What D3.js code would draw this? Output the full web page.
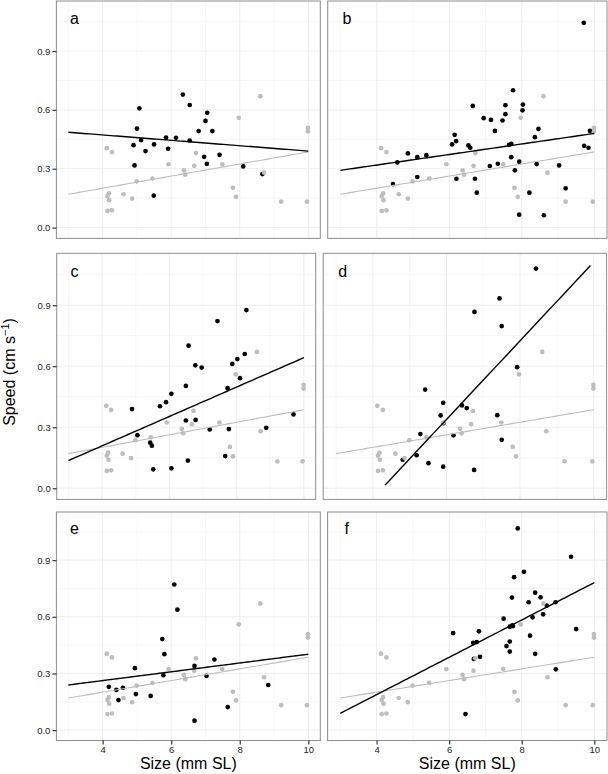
<!DOCTYPE html>
<html><head><meta charset="utf-8">
<script src="https://cdn.jsdelivr.net/npm/d3@7"></script>
<style>
html,body{margin:0;padding:0;background:#fff;}
svg{display:block;font-family:"Liberation Sans",Arial,sans-serif;}
</style></head>
<body>
<svg id="chart" width="608" height="774"></svg>
<script>
// ---------- data ----------
const panelLabels = ["a","b","c","d","e","f"];
const xTickValues = [4, 6, 8, 10];
const xTickLabels = ["4", "6", "8", "10"];
const yTickValues = [0, 0.3, 0.6, 0.9];
const yTickLabels = ["0.0", "0.3", "0.6", "0.9"];
const fitX = [3, 10];

// grey reference points (same in every panel)
const greyX = [4.12,4.27,4.14,4.18,4.19,4.14,4.27,4.61,4.86,4.99,5.45,5.92,6.37,6.41,6.67,6.72,7.49,7.80,7.89,7.97,8.60,8.71,9.21,9.96,9.99,9.99];
const greyY = [0.405,0.385,0.160,0.175,0.140,0.085,0.088,0.170,0.148,0.236,0.250,0.323,0.292,0.270,0.315,0.380,0.323,0.203,0.157,0.560,0.670,0.280,0.132,0.132,0.508,0.490];
const greyFit = [0.170, 0.386];

const aX = [5.07,5.00,4.90,5.12,4.93,5.25,5.50,5.49,5.85,5.91,6.14,6.34,6.54,6.54,6.80,7.00,7.05,7.20,6.96,7.04,7.41,8.10,8.66];
const aY = [0.608,0.505,0.420,0.446,0.317,0.390,0.424,0.163,0.459,0.402,0.458,0.678,0.625,0.444,0.492,0.544,0.585,0.492,0.361,0.325,0.371,0.312,0.273];
const aFit = [0.486, 0.390];

const bX = [9.71,7.76,6.65,7.55,8.03,8.02,7.55,6.95,7.15,7.47,7.26,8.46,8.36,9.88,6.15,6.19,6.08,6.53,6.58,7.65,7.71,9.72,9.84,4.86,5.12,5.37,4.57,7.71,7.93,7.34,7.12,8.41,9.03,7.81,5.12,4.45,6.20,6.71,6.76,8.21,9.21,7.93,8.61];
const bY = [1.044,0.700,0.620,0.624,0.627,0.598,0.578,0.558,0.549,0.546,0.493,0.503,0.461,0.493,0.473,0.441,0.424,0.419,0.407,0.422,0.427,0.417,0.407,0.378,0.359,0.369,0.332,0.359,0.336,0.325,0.314,0.324,0.317,0.292,0.258,0.222,0.249,0.249,0.178,0.178,0.200,0.066,0.063];
const bFit = [0.292, 0.480];

const cX = [8.29,7.43,6.57,6.77,6.96,6.49,8.24,8.02,7.87,8.10,7.73,6.06,5.90,5.72,4.89,5.05,6.49,6.78,7.20,7.77,8.88,9.69,5.43,5.48,5.52,6.06,6.55,7.66];
const cY = [0.876,0.822,0.701,0.604,0.593,0.503,0.660,0.635,0.611,0.541,0.492,0.464,0.423,0.403,0.389,0.261,0.333,0.336,0.289,0.291,0.297,0.363,0.224,0.209,0.093,0.098,0.136,0.158];
const cFit = [0.136, 0.642];

const dX = [8.43,7.44,6.76,7.50,7.92,5.42,5.91,6.42,6.55,5.84,5.92,7.38,5.29,6.19,7.50,5.19,4.81,5.51,5.91,6.75];
const dY = [1.080,0.933,0.867,0.797,0.595,0.485,0.420,0.407,0.394,0.358,0.320,0.359,0.266,0.260,0.238,0.162,0.140,0.123,0.106,0.090];
const dFit = [-0.242, 1.112];

const eX = [6.09,6.18,5.74,5.80,5.77,4.94,7.26,6.68,7.03,4.18,4.40,4.59,4.46,4.97,5.40,8.83,7.65,6.68];
const eY = [0.771,0.638,0.482,0.402,0.291,0.328,0.374,0.340,0.287,0.229,0.213,0.224,0.159,0.191,0.181,0.239,0.122,0.050];
const eFit = [0.239, 0.402];

const fX = [7.89,9.36,8.06,7.79,7.73,8.37,8.19,8.52,8.93,8.69,8.59,8.30,7.50,7.74,7.67,7.76,9.50,6.11,6.82,8.23,6.66,6.76,7.67,7.58,7.67,8.37,6.85,6.68,8.94,6.45];
const fY = [1.068,0.918,0.838,0.810,0.702,0.728,0.677,0.703,0.677,0.659,0.613,0.597,0.590,0.555,0.548,0.551,0.535,0.514,0.523,0.500,0.462,0.466,0.469,0.445,0.416,0.404,0.388,0.377,0.322,0.085];
const fFit = [0.089, 0.781];

// ---------- layout ----------
const layout = {
  a:{x0:56.4, x1:320.3, y0:1.0,   y1:238.4, yAxis:true,  xAxis:false},
  b:{x0:327.7,x1:607.0, y0:1.0,   y1:238.4, yAxis:false, xAxis:false},
  c:{x0:56.7, x1:315.7, y0:253.3, y1:499.4, yAxis:true,  xAxis:false},
  d:{x0:323.2,x1:606.6, y0:253.3, y1:499.4, yAxis:false, xAxis:false},
  e:{x0:56.4, x1:320.3, y0:512.0, y1:740.5, yAxis:true,  xAxis:true},
  f:{x0:327.6,x1:607.0, y0:512.0, y1:740.5, yAxis:false, xAxis:true}
};
const seriesByPanel = {
  a:{x:aX,y:aY,fit:aFit}, b:{x:bX,y:bY,fit:bFit}, c:{x:cX,y:cY,fit:cFit},
  d:{x:dX,y:dY,fit:dFit}, e:{x:eX,y:eY,fit:eFit}, f:{x:fX,y:fY,fit:fFit}
};
const xDomain = [2.65, 10.35];
const yLimits = [0, 1.1];
const yDomain = [-0.055, 1.155];
const xMinor = [3,5,7,9];
const yMinor = [0.15,0.45,0.75,1.05];

const svg = d3.select("#chart");
const greyCol = "#bdbdbd";
const r = 2.35;

// evaluate fitted line like ggplot (80 points, drop outside y limits)
function fitPoints(fit){
  const n = 80, pts = [];
  const slope = (fit[1]-fit[0])/(fitX[1]-fitX[0]);
  for(let i=0;i<n;i++){
    const xv = fitX[0] + i*(fitX[1]-fitX[0])/(n-1);
    const yv = fit[0] + slope*(xv-fitX[0]);
    if(yv>=yLimits[0] && yv<=yLimits[1]) pts.push([xv,yv]);
  }
  return pts;
}

panelLabels.forEach(id=>{
  const L = layout[id], S = seriesByPanel[id];
  const x = d3.scaleLinear().domain(xDomain).range([L.x0, L.x1]);
  const y = d3.scaleLinear().domain(yDomain).range([L.y1, L.y0]);
  const g = svg.append("g");

  // grid
  const grid = g.append("g");
  grid.selectAll(".vmin").data(xMinor).join("line")
    .attr("x1",d=>x(d)).attr("x2",d=>x(d)).attr("y1",L.y0).attr("y2",L.y1)
    .attr("stroke","#f5f5f5").attr("stroke-width",0.8);
  grid.selectAll(".hmin").data(yMinor).join("line")
    .attr("y1",d=>y(d)).attr("y2",d=>y(d)).attr("x1",L.x0).attr("x2",L.x1)
    .attr("stroke","#f5f5f5").attr("stroke-width",0.8);
  grid.selectAll(".vmaj").data(xTickValues).join("line")
    .attr("x1",d=>x(d)).attr("x2",d=>x(d)).attr("y1",L.y0).attr("y2",L.y1)
    .attr("stroke","#ebebeb").attr("stroke-width",0.9);
  grid.selectAll(".hmaj").data(yTickValues).join("line")
    .attr("y1",d=>y(d)).attr("y2",d=>y(d)).attr("x1",L.x0).attr("x2",L.x1)
    .attr("stroke","#ebebeb").attr("stroke-width",0.9);

  const line = d3.line().x(d=>x(d[0])).y(d=>y(d[1]));

  // black points
  g.append("g").selectAll("circle").data(d3.range(S.x.length)).join("circle")
    .attr("cx",i=>x(S.x[i])).attr("cy",i=>y(S.y[i])).attr("r",r).attr("fill","#000");
  // grey points
  g.append("g").selectAll("circle").data(d3.range(greyX.length)).join("circle")
    .attr("cx",i=>x(greyX[i])).attr("cy",i=>y(greyY[i])).attr("r",r).attr("fill",greyCol);
  // grey fit
  g.append("path").attr("d",line(fitPoints(greyFit))).attr("fill","none")
    .attr("stroke","#bbbbbb").attr("stroke-width",1.1);
  // black fit
  g.append("path").attr("d",line(fitPoints(S.fit))).attr("fill","none")
    .attr("stroke","#000").attr("stroke-width",1.4);

  // panel border
  g.append("rect").attr("x",L.x0).attr("y",L.y0).attr("width",L.x1-L.x0).attr("height",L.y1-L.y0)
    .attr("fill","none").attr("stroke","#8c8c8c").attr("stroke-width",1);

  // panel letter
  g.append("text").attr("x",x(3.18)).attr("y",y(1.065)).attr("text-anchor","middle")
    .attr("dominant-baseline","central").attr("font-size",16).attr("fill","#000").text(id);

  if(L.yAxis){
    const ax = g.append("g").attr("transform",`translate(${L.x0},0)`)
      .call(d3.axisLeft(y).tickValues(yTickValues).tickFormat((d,i)=>yTickLabels[i]).tickSize(4).tickPadding(2));
    ax.select(".domain").remove();
    ax.selectAll(".tick line").attr("stroke","#333").attr("stroke-width",1.2);
    ax.selectAll(".tick text").attr("font-size",9.5).attr("fill","#222").attr("font-family","Liberation Sans, Arial, sans-serif");
  }
  if(L.xAxis){
    const ax = g.append("g").attr("transform",`translate(0,${L.y1})`)
      .call(d3.axisBottom(x).tickValues(xTickValues).tickFormat((d,i)=>xTickLabels[i]).tickSize(4).tickPadding(2));
    ax.select(".domain").remove();
    ax.selectAll(".tick line").attr("stroke","#333").attr("stroke-width",1.2);
    ax.selectAll(".tick text").attr("font-size",9.5).attr("fill","#222").attr("font-family","Liberation Sans, Arial, sans-serif");
    g.append("text").attr("x",(L.x0+L.x1)/2).attr("y",769).attr("text-anchor","middle")
      .attr("font-size",16).attr("fill","#000").text("Size (mm SL)");
  }
});

// y axis title
const yt = svg.append("text").attr("transform","translate(15,372) rotate(-90)")
  .attr("text-anchor","middle").attr("font-size",16).attr("fill","#000");
yt.append("tspan").text("Speed (cm s");
yt.append("tspan").attr("font-size",11).attr("dy",-6).text("\u22121");
yt.append("tspan").attr("dy",6).text(")");
</script>
</body></html>
